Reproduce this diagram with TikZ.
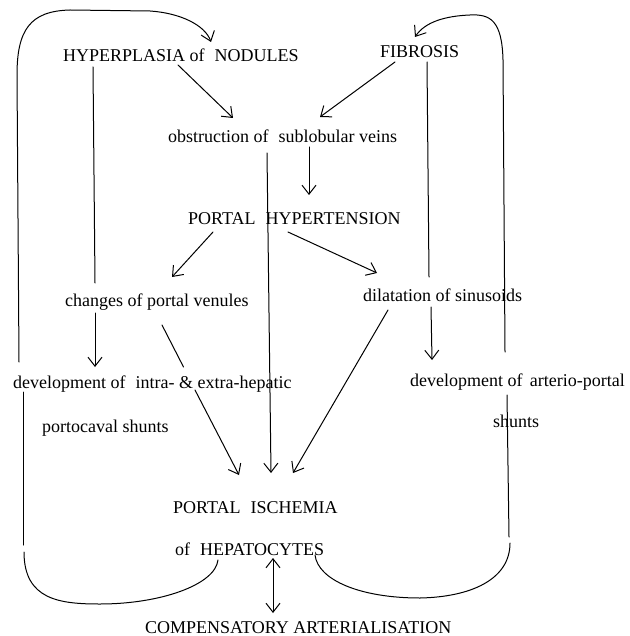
\documentclass[tikz,border=0pt]{standalone}
\usepackage{fontspec}
\setmainfont{Liberation Serif}
\usetikzlibrary{arrows.meta}
\begin{document}
\begin{tikzpicture}[x=1pt,y=-1pt,
  lbl/.style={anchor=base west, inner sep=0pt, font=\fontsize{18}{21}\selectfont},
  conn/.style={line width=1pt, line cap=round},
  arr/.style={conn, -{Straight Barb[length=9pt,width=14pt,line width=1pt]}},
  darr/.style={conn, {Straight Barb[length=9pt,width=14pt,line width=1pt]}-{Straight Barb[length=9pt,width=14pt,line width=1pt]}}]
\useasboundingbox (0,0) rectangle (629,636);
\fill[white] (0,0) rectangle (629,636);
% text nodes
\node[lbl] (hyp) at (63,62) {HYPERPLASIA of\hspace{0.3em} NODULES};
\node[lbl] (fib) at (380,58) {FIBROSIS};
\node[lbl] (obs) at (168,143) {obstruction of\hspace{0.3em} sublobular veins};
\node[lbl] (ph) at (188,225) {PORTAL\hspace{0.3em} HYPERTENSION};
\node[lbl] (chg) at (65,306) {changes of portal venules};
\node[lbl] (dil) at (363,301) {dilatation of sinusoids};
\node[lbl] (dev1) at (13,388) {development of\hspace{0.3em} intra- \& extra-hepatic};
\node[lbl] (dev1b) at (42,432) {portocaval shunts};
\node[lbl] (dev2) at (410,386) {development of\hspace{0.15em} arterio-portal};
\node[lbl] (dev2b) at (493,427) {shunts};
\node[lbl] (isc) at (173,513) {PORTAL\hspace{0.3em} ISCHEMIA};
\node[lbl] (isc2) at (175,555) {of\hspace{0.3em} HEPATOCYTES};
\node[lbl] (comp) at (145,633) {COMPENSATORY ARTERIALISATION};
% connector end points
\coordinate (hypS) at (178,65);   \coordinate (obsL) at (233,118);
\coordinate (fibS) at (395,62);   \coordinate (obsR) at (320,117);
\coordinate (obsB) at (309,147);  \coordinate (phT) at (309,195);
\coordinate (obsV) at (267,153);  \coordinate (iscM) at (271,473);
\coordinate (phL) at (213,232);   \coordinate (chgT) at (172,277);
\coordinate (phR) at (288,232);   \coordinate (dilT) at (377,273);
\coordinate (chgB) at (162,325);  \coordinate (chgM1) at (183.5,367);
\coordinate (chgM2) at (195,390); \coordinate (iscL) at (239,475);
\coordinate (dilB) at (388,310);  \coordinate (iscR) at (293,473);
\coordinate (hypV) at (93,67);    \coordinate (hypV1) at (95,283);
\coordinate (hypV2) at (95,313);  \coordinate (devT) at (95,367);
\coordinate (fibV) at (427,62);   \coordinate (fibV1) at (429,277);
\coordinate (fibV2) at (431,307); \coordinate (dev2T) at (432,360);
\coordinate (iscB) at (273,558);  \coordinate (compT) at (273,613);
% arrows
\draw[arr] (hypS) -- (obsL);
\draw[arr] (fibS) -- (obsR);
\draw[arr] (obsB) -- (phT);
\draw[arr] (obsV) -- (iscM);
\draw[arr] (phL) -- (chgT);
\draw[arr] (phR) -- (dilT);
\draw[conn] (chgB) -- (chgM1);
\draw[arr] (chgM2) -- (iscL);
\draw[arr] (dilB) -- (iscR);
\draw[conn] (hypV) -- (hypV1);
\draw[arr] (hypV2) -- (devT);
\draw[conn] (fibV) -- (fibV1);
\draw[arr] (fibV2) -- (dev2T);
\draw[darr] (iscB) -- (compT);
% left feedback loop
\draw[conn] (218,560) .. controls (215,585) and (160,604) .. (100,604)
  .. controls (60,604) and (24,600) .. (24,552);
\draw[conn] (23,545) -- (23,392);
\draw[arr] (19,362) -- (17,75) .. controls (17,30) and (30,11) .. (70,10)
  -- (150,11) .. controls (180,13) and (205,25) .. (211,42);
% right feedback loop
\draw[conn] (315,555) .. controls (318,580) and (360,598) .. (420,598)
  .. controls (470,597) and (510,580) .. (510,543);
\draw[conn] (509,537) -- (507,395);
\draw[arr] (505,352) -- (503,60) .. controls (502,20) and (490,14) .. (470,15)
  .. controls (445,16) and (425,22) .. (415,37);
\end{tikzpicture}
\end{document}
